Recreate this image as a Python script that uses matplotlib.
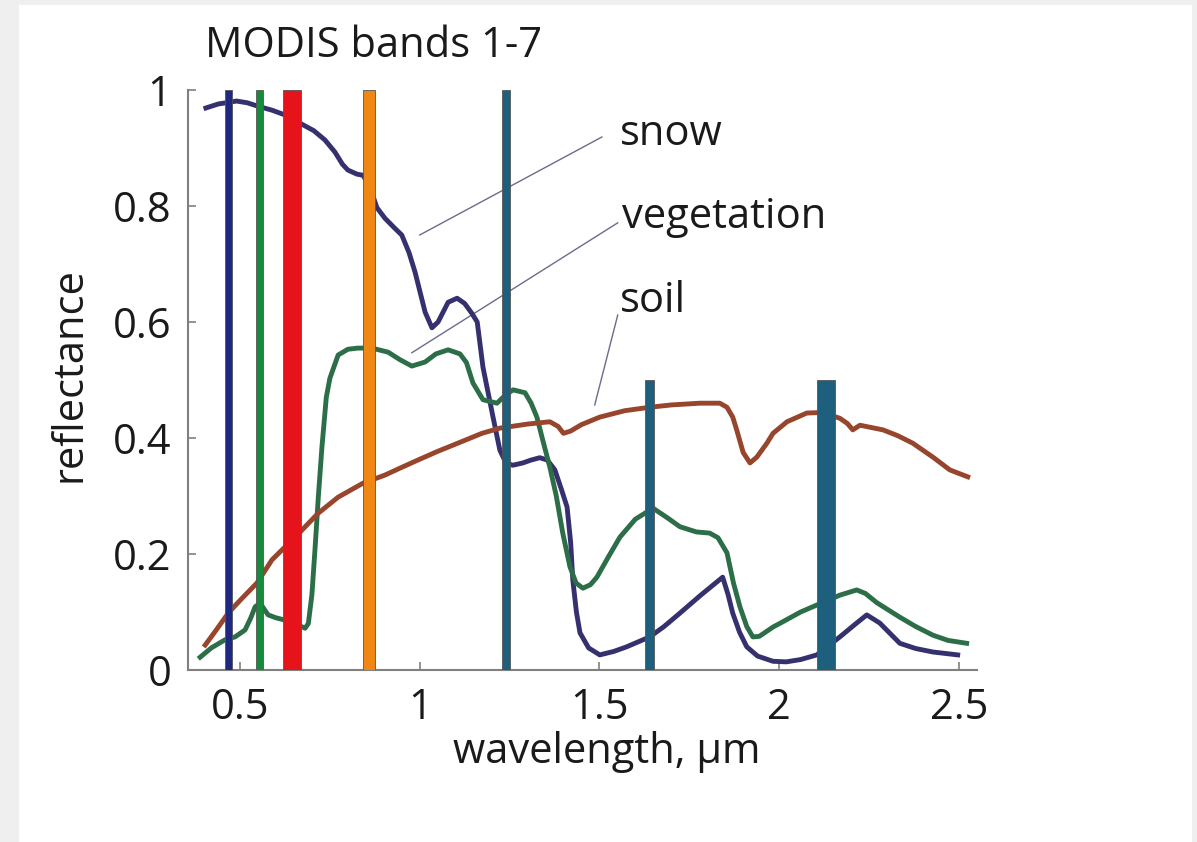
import matplotlib.pyplot as plt
from matplotlib.patches import Rectangle

plt.rcParams['font.family'] = ['Open Sans', 'DejaVu Sans']

# MODIS bands 1-7: lower / upper edge (um) and drawn height
band_lo = [0.620, 0.841, 0.459, 0.545, 1.230, 1.628, 2.105]
band_hi = [0.670, 0.876, 0.479, 0.565, 1.250, 1.652, 2.155]
band_top = [1, 1, 1, 1, 1, 0.5, 0.5]
band_colors = ['#e6141a', '#f08714', '#1e2882', '#148c3c', '#1e5f7d', '#1e5f7d', '#1e5f7d']

# reflectance spectra
snow_wl = [0.405, 0.44, 0.472, 0.49, 0.52, 0.55, 0.59, 0.625, 0.675, 0.705, 0.736, 0.764,
           0.785, 0.80, 0.825, 0.842, 0.86, 0.881, 0.903, 0.93, 0.95, 0.97, 0.987, 1.015,
           1.034, 1.051, 1.079, 1.104, 1.125, 1.145, 1.16, 1.176, 1.204, 1.223, 1.24, 1.259,
           1.287, 1.31, 1.334, 1.355, 1.376, 1.395, 1.41, 1.42, 1.426, 1.436, 1.446, 1.47,
           1.501, 1.54, 1.576, 1.64, 1.68, 1.724, 1.78, 1.843, 1.858, 1.871, 1.89, 1.91,
           1.94, 1.983, 2.02, 2.06, 2.105, 2.169, 2.21, 2.244, 2.28, 2.336, 2.38, 2.428, 2.497]
snow_r = [0.969, 0.976, 0.979, 0.981, 0.978, 0.972, 0.965, 0.957, 0.94, 0.93, 0.914, 0.893,
          0.872, 0.862, 0.855, 0.853, 0.835, 0.797, 0.779, 0.762, 0.75, 0.72, 0.686, 0.617,
          0.59, 0.6, 0.634, 0.641, 0.632, 0.615, 0.6, 0.522, 0.436, 0.379, 0.357, 0.353,
          0.357, 0.362, 0.366, 0.362, 0.345, 0.31, 0.281, 0.22, 0.155, 0.1, 0.064, 0.038,
          0.026, 0.032, 0.04, 0.057, 0.075, 0.098, 0.128, 0.16, 0.13, 0.098, 0.065, 0.04,
          0.024, 0.015, 0.014, 0.018, 0.026, 0.057, 0.078, 0.095, 0.081, 0.046, 0.037, 0.031, 0.026]

veg_wl = [0.389, 0.42, 0.458, 0.486, 0.514, 0.53, 0.542, 0.556, 0.578, 0.60, 0.625, 0.66,
          0.681, 0.69, 0.70, 0.709, 0.718, 0.728, 0.74, 0.75, 0.773, 0.80, 0.828, 0.867,
          0.912, 0.945, 0.978, 1.015, 1.045, 1.079, 1.112, 1.13, 1.148, 1.176, 1.215, 1.24,
          1.26, 1.293, 1.31, 1.326, 1.345, 1.362, 1.38, 1.398, 1.418, 1.435, 1.454, 1.475,
          1.493, 1.525, 1.557, 1.60, 1.649, 1.69, 1.724, 1.77, 1.807, 1.83, 1.855, 1.873,
          1.891, 1.91, 1.927, 1.945, 1.983, 2.01, 2.06, 2.105, 2.169, 2.216, 2.24, 2.272,
          2.336, 2.38, 2.428, 2.47, 2.522]
veg_r = [0.022, 0.038, 0.052, 0.057, 0.069, 0.09, 0.109, 0.115, 0.095, 0.09, 0.086, 0.078,
         0.072, 0.08, 0.13, 0.212, 0.30, 0.385, 0.47, 0.503, 0.543, 0.553, 0.555, 0.555,
         0.548, 0.535, 0.524, 0.531, 0.545, 0.552, 0.545, 0.53, 0.495, 0.466, 0.46, 0.475,
         0.483, 0.478, 0.46, 0.436, 0.39, 0.35, 0.30, 0.236, 0.178, 0.15, 0.141, 0.147,
         0.16, 0.195, 0.229, 0.26, 0.279, 0.262, 0.247, 0.238, 0.236, 0.228, 0.202, 0.15,
         0.109, 0.075, 0.057, 0.058, 0.074, 0.083, 0.10, 0.112, 0.129, 0.138, 0.132, 0.116,
         0.091, 0.075, 0.06, 0.051, 0.046]

soil_wl = [0.403, 0.435, 0.467, 0.50, 0.547, 0.589, 0.625, 0.65, 0.672, 0.717, 0.773, 0.842,
           0.903, 0.945, 0.995, 1.05, 1.09, 1.173, 1.223, 1.30, 1.362, 1.385, 1.40, 1.42,
           1.45, 1.501, 1.57, 1.64, 1.70, 1.78, 1.835, 1.855, 1.871, 1.882, 1.90, 1.919,
           1.938, 1.966, 1.983, 2.022, 2.077, 2.12, 2.169, 2.19, 2.205, 2.225, 2.289, 2.33,
           2.372, 2.428, 2.475, 2.525]
soil_r = [0.043, 0.07, 0.098, 0.12, 0.15, 0.19, 0.212, 0.225, 0.241, 0.27, 0.298, 0.322,
          0.336, 0.348, 0.362, 0.377, 0.387, 0.408, 0.417, 0.424, 0.428, 0.42, 0.408, 0.412,
          0.423, 0.436, 0.447, 0.453, 0.457, 0.46, 0.46, 0.453, 0.436, 0.414, 0.375, 0.357,
          0.367, 0.391, 0.408, 0.428, 0.443, 0.444, 0.434, 0.425, 0.414, 0.422, 0.414, 0.404,
          0.391, 0.367, 0.345, 0.333]

fig = plt.figure(figsize=(11.97, 8.42), dpi=100, facecolor='#efefef')
fig.patches.append(Rectangle((0.0159, 0.0), 0.98, 0.994, transform=fig.transFigure,
                             facecolor='white', edgecolor='none', zorder=-1))
ax = fig.add_axes([0.157, 0.2043, 0.659, 0.6888])
ax.set_facecolor('white')

ax.plot(snow_wl, snow_r, color='#35306e', lw=3.5, solid_joinstyle='round', zorder=2)
ax.plot(veg_wl, veg_r, color='#2c6e48', lw=3.5, solid_joinstyle='round', zorder=2)
ax.plot(soil_wl, soil_r, color='#97452d', lw=3.5, solid_joinstyle='round', zorder=2)

# bands drawn over the spectra
for lo, hi, top, c in zip(band_lo, band_hi, band_top, band_colors):
    ax.bar((lo + hi) / 2, top, width=hi - lo, color=c, edgecolor='#555555', lw=0.6, zorder=3)

# leader lines and curve names
lead = '#6b6b8c'
ax.plot([1.0, 1.507], [0.75, 0.919], color=lead, lw=1.0, zorder=1)
ax.plot([0.978, 1.551], [0.547, 0.771], color=lead, lw=1.0, zorder=1)
ax.plot([1.487, 1.551], [0.457, 0.612], color=lead, lw=1.0, zorder=1)
ax.text(1.557, 0.905, 'snow', fontsize=30, va='baseline', color='#1a1a1a')
ax.text(1.563, 0.762, 'vegetation', fontsize=30, va='baseline', color='#1a1a1a')
ax.text(1.557, 0.617, 'soil', fontsize=30, va='baseline', color='#1a1a1a')

ax.text(0.0215, 1.057, 'MODIS bands 1-7', transform=ax.transAxes, fontsize=30,
        va='baseline', color='#1a1a1a')

ax.set_xlim(0.355, 2.55)
ax.set_ylim(0, 1)
ax.set_xticks([0.5, 1, 1.5, 2, 2.5])
ax.set_xticklabels(['0.5', '1', '1.5', '2', '2.5'])
ax.set_yticks([0, 0.2, 0.4, 0.6, 0.8, 1])
ax.set_yticklabels(['0', '0.2', '0.4', '0.6', '0.8', '1'])
ax.tick_params(direction='in', length=6, width=1.2, color='#808080',
               labelsize=30, labelcolor='#1a1a1a')
ax.tick_params(axis='x', pad=12)
ax.tick_params(axis='y', pad=12)

for s in ['top', 'right']:
    ax.spines[s].set_visible(False)
for s in ['left', 'bottom']:
    ax.spines[s].set_color('#808080')
    ax.spines[s].set_linewidth(1.5)

ax.set_xlabel('wavelength, µm', fontsize=30, color='#1a1a1a')
ax.xaxis.set_label_coords(0.531, -0.105)
ax.text(-0.15, 0.509, 'reflectance', transform=ax.transAxes, fontsize=30,
        rotation=90, ha='center', va='center', color='#1a1a1a')

plt.savefig('out.png', dpi=100, facecolor=fig.get_facecolor())
